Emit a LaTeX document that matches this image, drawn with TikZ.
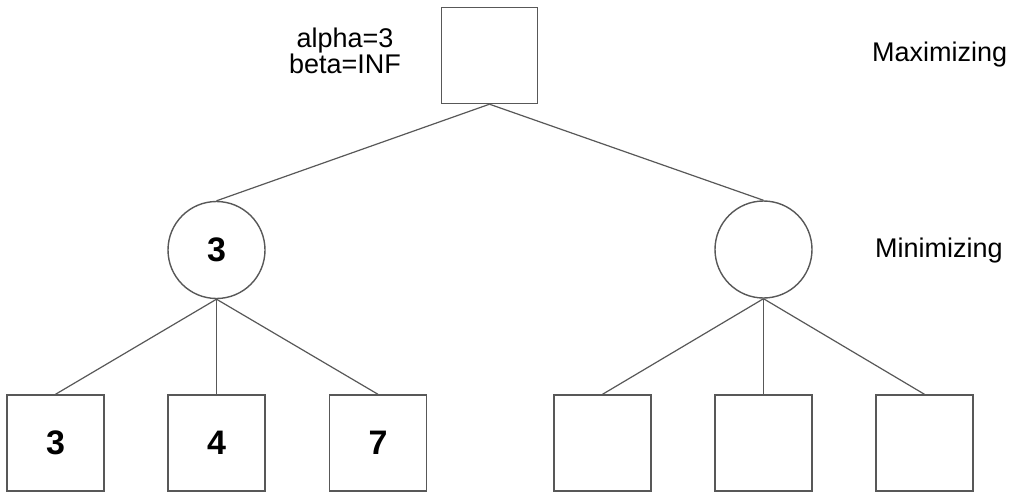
\documentclass[tikz,border=0pt]{standalone}
\usepackage{fontspec}
\setmainfont{Liberation Sans}
\definecolor{edge}{RGB}{88,88,88}
\begin{document}
\begin{tikzpicture}[x=1pt,y=-1pt,
  sq/.style={draw=edge,line width=1.4pt,rectangle,inner sep=0pt,minimum width=96pt,minimum height=96pt,font=\fontsize{34}{34}\selectfont\bfseries},
  circ/.style={draw=edge,line width=1.4pt,circle,inner sep=0pt,minimum size=97pt,font=\fontsize{34}{34}\selectfont\bfseries},
  lbl/.style={font=\fontsize{27}{25}\selectfont,inner sep=0pt},
  conn/.style={draw=edge,line width=1.2pt}]
\useasboundingbox[fill=white] (0,0) rectangle (1017,493);
\node[sq] (top) at (489.5,55.5) {};
\node[circ] (L) at (216.5,250) {3};
\node[circ] (R) at (763.5,249.5) {};
\node[sq,minimum width=97pt] (b1) at (55.5,443) {3};
\node[sq,minimum width=97pt] (b2) at (216.5,443) {4};
\node[sq,minimum width=97pt] (b3) at (378,443) {7};
\node[sq,minimum width=97pt] (b4) at (602.5,443) {};
\node[sq,minimum width=97pt] (b5) at (763.5,443) {};
\node[sq,minimum width=97pt] (b6) at (924.5,443) {};
\node[lbl,align=center,anchor=north] (ab) at (345,27.5) {alpha=3\\beta=INF};
\node[lbl,anchor=base west] (max) at (872,61) {Maximizing};
\node[lbl,anchor=base west] (min) at (875,257) {Minimizing};
\draw[conn] (top.south) -- (L.north);
\draw[conn] (top.south) -- (R.north);
\draw[conn] (L.south) -- (b1.north);
\draw[conn] (L.south) -- (b2.north);
\draw[conn] (L.south) -- (b3.north);
\draw[conn] (R.south) -- (b4.north);
\draw[conn] (R.south) -- (b5.north);
\draw[conn] (R.south) -- (b6.north);
\end{tikzpicture}
\end{document}
